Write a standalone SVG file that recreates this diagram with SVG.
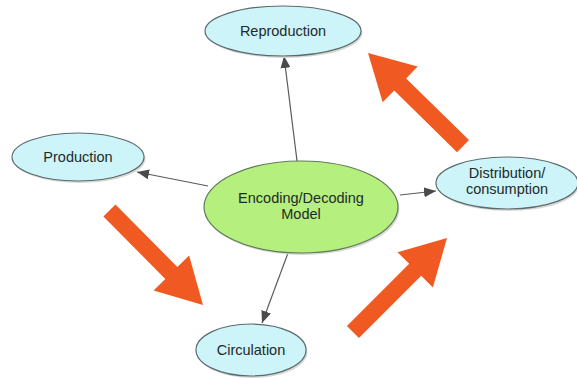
<svg xmlns="http://www.w3.org/2000/svg" width="577" height="379" viewBox="0 0 577 379">
<style>
.node{fill:#CDF4F9;stroke:#5B6B6B;stroke-width:1.2}
.center{fill:#B5EF7E;stroke:#5E7A55;stroke-width:1.2}
.shadow{fill:#D8D8D8}
.lbl{font-family:"Liberation Sans",Arial,sans-serif;font-size:14.5px;fill:#1E2A2A;text-anchor:middle}
.conn{stroke:#5A5A5A;stroke-width:1.2;fill:none;marker-end:url(#ah)}
.big{fill:#F05A22}
</style>
<defs>
<marker id="ah" viewBox="0 0 12 10" refX="12" refY="5" markerWidth="12" markerHeight="10" markerUnits="userSpaceOnUse" orient="auto">
<path d="M0,0 L12,5 L0,10 z" fill="#4A4A4A"/>
</marker>
<polygon id="bigArrow" points="-133,-8.5 -45,-8.5 -45,-25 0,0 -45,25 -45,8.5 -133,8.5"/>
</defs>
<rect width="577" height="379" fill="#FFFFFF"/>
<g id="connectors">
<line class="conn" x1="297" y1="161" x2="284" y2="56"/>
<line class="conn" x1="208" y1="186" x2="137" y2="172"/>
<line class="conn" x1="400" y1="195" x2="436" y2="191"/>
<line class="conn" x1="288" y1="253" x2="262" y2="323"/>
</g>
<g id="big-arrows">
<use href="#bigArrow" class="big" transform="translate(368,53) rotate(-135.6)"/>
<use href="#bigArrow" class="big" transform="translate(203,305) rotate(45.3)"/>
<use href="#bigArrow" class="big" transform="translate(447,238) rotate(-45)"/>
</g>
<g id="reproduction">
<ellipse class="shadow" cx="284.5" cy="33" rx="78" ry="25"/>
<ellipse class="node" cx="283" cy="31" rx="78" ry="25"/>
<text class="lbl" x="283" y="36">Reproduction</text>
</g>
<g id="production">
<ellipse class="shadow" cx="79.5" cy="159" rx="66" ry="24"/>
<ellipse class="node" cx="78" cy="157" rx="66" ry="24"/>
<text class="lbl" x="78" y="162">Production</text>
</g>
<g id="encoding">
<ellipse class="shadow" cx="302.5" cy="209" rx="97" ry="46"/>
<ellipse class="center" cx="301" cy="207" rx="97" ry="46"/>
<text class="lbl" x="301" y="203">Encoding/Decoding</text>
<text class="lbl" x="301" y="219">Model</text>
</g>
<g id="distribution">
<ellipse class="shadow" cx="508.5" cy="185" rx="71" ry="26"/>
<ellipse class="node" cx="507" cy="183" rx="71" ry="26"/>
<text class="lbl" x="507" y="178">Distribution/</text>
<text class="lbl" x="507" y="194">consumption</text>
</g>
<g id="circulation">
<ellipse class="shadow" cx="252.5" cy="352" rx="55" ry="26"/>
<ellipse class="node" cx="251" cy="350" rx="55" ry="26"/>
<text class="lbl" x="251" y="355">Circulation</text>
</g>
</svg>
